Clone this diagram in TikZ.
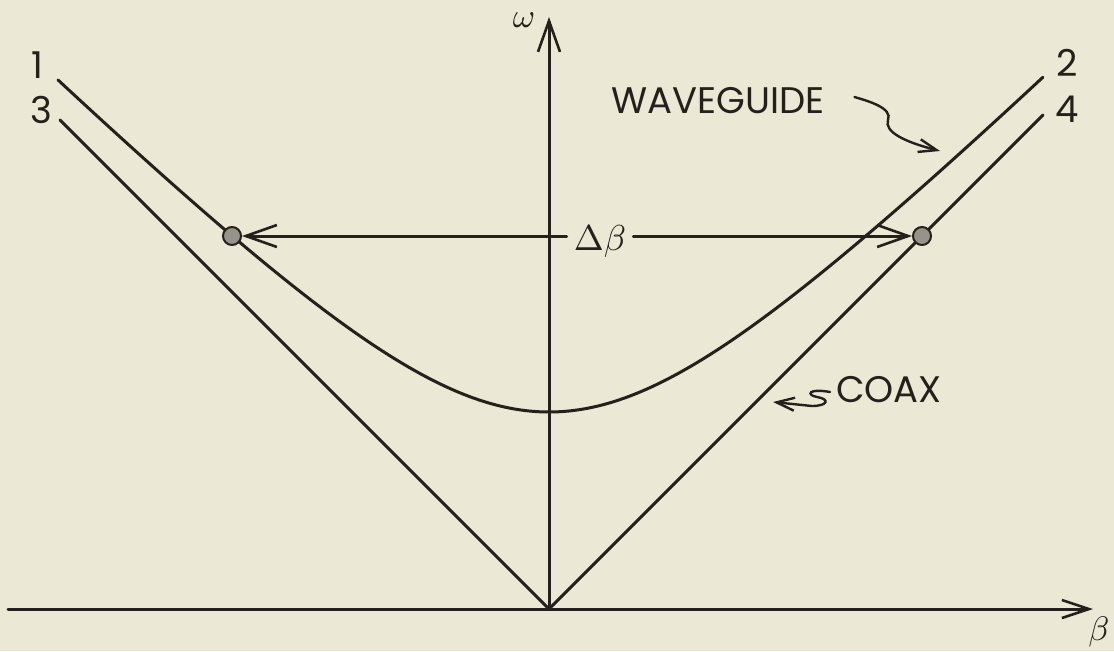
\documentclass[tikz,border=0pt]{standalone}
\usepackage{fontspec}
\setmainfont{Poppins}
\usetikzlibrary{arrows.meta}
\definecolor{bgc}{RGB}{235,232,213}
\definecolor{inkc}{RGB}{38,32,28}
\definecolor{dotc}{RGB}{150,148,138}
\begin{document}
\begin{tikzpicture}[x=1pt,y=-1pt,
  bigbarb/.tip={Straight Barb[length=31pt, width=22pt, line width=2.6pt]},
  midbarb/.tip={Straight Barb[length=27pt, width=18pt, line width=2.6pt]},
  smallbarb/.tip={Straight Barb[length=18pt, width=13pt, line width=2.4pt]},
  ink/.style={draw=inkc, line width=3pt, line cap=round},
  lbl/.style={text=inkc, font=\fontsize{37}{40}\selectfont, inner sep=0pt},
  wlbl/.style={text=inkc, font=\fontsize{37}{40}\selectfont, inner sep=0pt},
  mlbl/.style={text=inkc, inner sep=0pt},
  dotnode/.style={circle, fill=dotc, draw=inkc, line width=2pt, minimum size=18pt, inner sep=0pt}]
\fill[bgc] (0,0) rectangle (1114,651);
\useasboundingbox (0,0) rectangle (1114,651);
% coordinates
\coordinate (O) at (549,609);
\coordinate (Yt) at (549,17);
\coordinate (Xl) at (8,609);
\coordinate (Xr) at (1093,609);
\coordinate (E3) at (60,120);
\coordinate (E4) at (1043,115);
% axes
\draw[ink, -{bigbarb}] (O) -- (Yt);
\draw[ink, -{midbarb}] (Xl) -- (Xr);
% asymptote lines 3 and 4
\draw[ink] (E3) -- (O) -- (E4);
% hyperbola 1-2
\draw[ink] plot[domain=-4.91:4.94, samples=120, smooth]
  ({549+100*\x},{609-100*sqrt(3.8809+\x*\x)});
% dots
\node[dotnode] (dl) at (232,236) {};
\node[dotnode] (dr) at (922,236) {};
% delta beta label and arrow
\node[mlbl, inner xsep=7pt] (db) at (600,241) {\scalebox{3.6}{$\Delta\beta$}};
\draw[ink, {bigbarb}-] (dl) -- (dl -| db.west);
\draw[ink, -{bigbarb}] (dl -| db.east) -- (dr);
% curve labels
\node[lbl] (n1) at (37,65) {1};
\node[lbl] (n3) at (41,110) {3};
\node[lbl] (n2) at (1067,63) {2};
\node[lbl] (n4) at (1067,109) {4};
% axis labels
\node[mlbl] (om) at (524,20) {\scalebox{3.4}{$\omega$}};
\node[mlbl] (be) at (1099,632) {\scalebox{3.4}{$\beta$}};
% waveguide
\node[wlbl, anchor=west] (wg) at (611,101) {WAVEGUIDE};
\coordinate (wgtip) at (940,151);
\draw[ink, line width=2.4pt, -{smallbarb}] ([xshift=30pt,yshift=4pt]wg.east) .. controls (868,101) and (893,108) .. (888,120)
  .. controls (884,132) and (905,142) .. (wgtip);
% coax
\node[wlbl, anchor=west] (cx) at (836,390) {COAX};
\coordinate (cxtip) at (773,402);
\draw[ink, line width=2.4pt, -{smallbarb}] (cx.west) ++(-6pt,-2pt) .. controls (808,388) and (806,395) .. (817,397)
  .. controls (830,399) and (828,406) .. (812,406) -- (cxtip);
\end{tikzpicture}
\end{document}
